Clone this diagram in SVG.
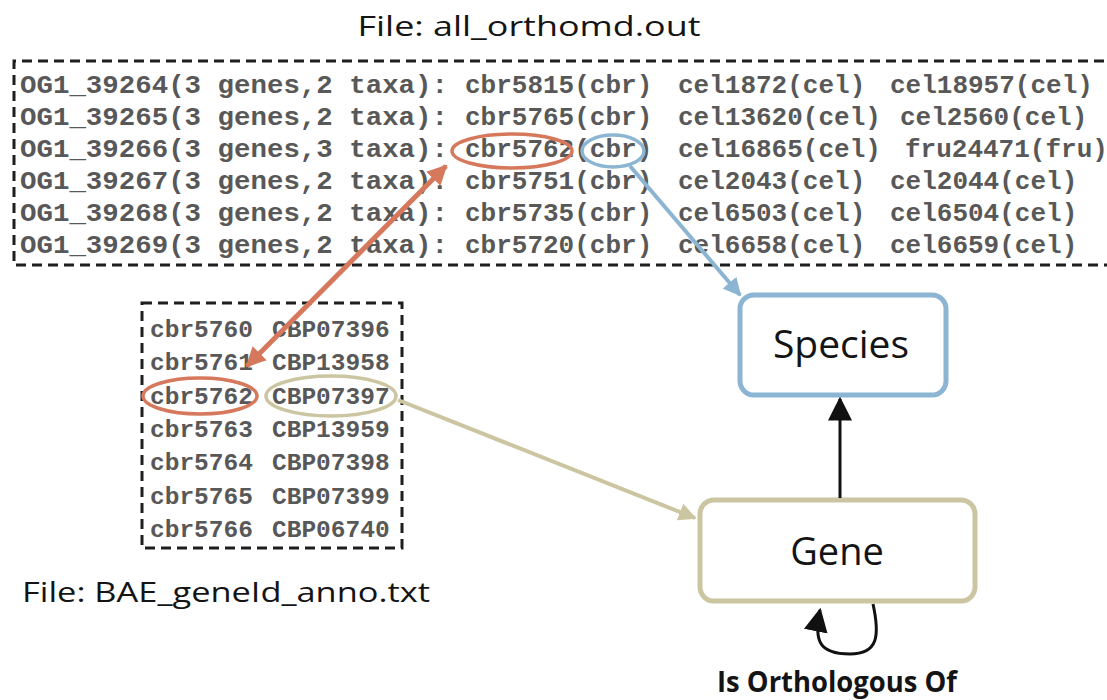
<svg xmlns="http://www.w3.org/2000/svg" width="1107" height="700" viewBox="0 0 1107 700">
  <style>
    .mono { font-family: "Liberation Mono", "Courier New", monospace; font-weight: bold; fill: #585858; }
    .big { font-size: 26px; }
    .small { font-size: 24.5px; }
    .label { font-family: "Open Sans", "DejaVu Sans", sans-serif; fill: #141414; }
    .filebox { fill: none; stroke: #1e1e1e; stroke-width: 3; stroke-dasharray: 10 6; }
    .node { fill: #ffffff; stroke-width: 5; }
  </style>
  <defs>
    <marker id="headRed" viewBox="0 0 10 10" refX="9" refY="5" markerWidth="4" markerHeight="4" orient="auto-start-reverse" markerUnits="strokeWidth">
      <path d="M0,0 L10,5 L0,10 z" fill="#d6785c"/>
    </marker>
    <marker id="headBlue" viewBox="0 0 10 10" refX="9" refY="5" markerWidth="4.5" markerHeight="4.5" orient="auto" markerUnits="strokeWidth">
      <path d="M0,0 L10,5 L0,10 z" fill="#8bb5d3"/>
    </marker>
    <marker id="headKhaki" viewBox="0 0 10 10" refX="9" refY="5" markerWidth="4.5" markerHeight="4.5" orient="auto" markerUnits="strokeWidth">
      <path d="M0,0 L10,5 L0,10 z" fill="#cbc5a2"/>
    </marker>
    <marker id="headBlack" viewBox="0 0 10 10" refX="9" refY="5" markerWidth="8" markerHeight="8" orient="auto" markerUnits="strokeWidth">
      <path d="M0,0 L10,5 L0,10 z" fill="#111111"/>
    </marker>
  </defs>

  <rect width="1107" height="700" fill="#ffffff"/>

  <!-- output file of orthologous groups -->
  <g id="file-orthomd">
    <text class="label" x="529" y="36" font-size="28" text-anchor="middle" textLength="343" lengthAdjust="spacingAndGlyphs">File: all_orthomd.out</text>
    <path class="filebox" d="M1120,61 H14 V265 H1120"/>
    <g class="mono big">
      <text x="20" y="93" textLength="428" lengthAdjust="spacingAndGlyphs">OG1_39264(3 genes,2 taxa):</text>
      <text x="465" y="93">cbr5815(cbr)</text>
      <text x="678" y="93">cel1872(cel)</text>
      <text x="890" y="93">cel18957(cel)</text>

      <text x="20" y="125" textLength="428" lengthAdjust="spacingAndGlyphs">OG1_39265(3 genes,2 taxa):</text>
      <text x="465" y="125">cbr5765(cbr)</text>
      <text x="678" y="125">cel13620(cel)</text>
      <text x="900" y="125">cel2560(cel)</text>

      <text x="20" y="157" textLength="428" lengthAdjust="spacingAndGlyphs">OG1_39266(3 genes,3 taxa):</text>
      <text x="465" y="157">cbr5762(cbr)</text>
      <text x="678" y="157">cel16865(cel)</text>
      <text x="905" y="157">fru24471(fru)</text>

      <text x="20" y="189" textLength="428" lengthAdjust="spacingAndGlyphs">OG1_39267(3 genes,2 taxa):</text>
      <text x="465" y="189">cbr5751(cbr)</text>
      <text x="678" y="189">cel2043(cel)</text>
      <text x="890" y="189">cel2044(cel)</text>

      <text x="20" y="221" textLength="428" lengthAdjust="spacingAndGlyphs">OG1_39268(3 genes,2 taxa):</text>
      <text x="465" y="221">cbr5735(cbr)</text>
      <text x="678" y="221">cel6503(cel)</text>
      <text x="890" y="221">cel6504(cel)</text>

      <text x="20" y="253" textLength="428" lengthAdjust="spacingAndGlyphs">OG1_39269(3 genes,2 taxa):</text>
      <text x="465" y="253">cbr5720(cbr)</text>
      <text x="678" y="253">cel6658(cel)</text>
      <text x="890" y="253">cel6659(cel)</text>
    </g>
  </g>

  <!-- gene id annotation file -->
  <g id="file-geneid">
    <rect class="filebox" x="142" y="303" width="260" height="245"/>
    <g class="mono small">
      <text x="150" y="337">cbr5760</text><text x="272" y="337">CBP07396</text>
      <text x="150" y="370">cbr5761</text><text x="272" y="370">CBP13958</text>
      <text x="150" y="404">cbr5762</text><text x="272" y="404">CBP07397</text>
      <text x="150" y="437">cbr5763</text><text x="272" y="437">CBP13959</text>
      <text x="150" y="470">cbr5764</text><text x="272" y="470">CBP07398</text>
      <text x="150" y="504">cbr5765</text><text x="272" y="504">CBP07399</text>
      <text x="150" y="537">cbr5766</text><text x="272" y="537">CBP06740</text>
    </g>
    <text class="label" x="22" y="602" font-size="28" textLength="408" lengthAdjust="spacingAndGlyphs">File: BAE_geneId_anno.txt</text>
  </g>

  <!-- highlighted fields -->
  <g id="highlights" fill="none" stroke-width="3.5">
    <ellipse cx="512" cy="151" rx="60" ry="17" stroke="#d6785c"/>
    <ellipse cx="613" cy="151" rx="31" ry="16" stroke="#8bb5d3"/>
    <ellipse cx="200" cy="396" rx="57" ry="18" stroke="#d6785c"/>
    <ellipse cx="331" cy="396" rx="65" ry="20" stroke="#cbc5a2"/>
  </g>

  <!-- entity nodes -->
  <g id="species">
    <rect class="node" x="740" y="295" width="206" height="100" rx="14" stroke="#8bb5d3"/>
    <text class="label" x="841" y="358" font-size="39" text-anchor="middle">Species</text>
  </g>
  <g id="gene">
    <rect class="node" x="700" y="500" width="275" height="101" rx="14" stroke="#cbc5a2"/>
    <text class="label" x="837" y="565" font-size="38" text-anchor="middle">Gene</text>
  </g>

  <!-- connectors -->
  <g id="connectors" fill="none">
    <line x1="247" y1="366" x2="446" y2="166" stroke="#d6785c" stroke-width="5" marker-start="url(#headRed)" marker-end="url(#headRed)"/>
    <line x1="630" y1="166" x2="740" y2="295" stroke="#8bb5d3" stroke-width="4" marker-end="url(#headBlue)"/>
    <line x1="398" y1="400" x2="695" y2="518" stroke="#cbc5a2" stroke-width="4" marker-end="url(#headKhaki)"/>
    <line x1="840" y1="498" x2="840" y2="399" stroke="#111111" stroke-width="3" marker-end="url(#headBlack)"/>
    <path d="M873,604 C880,636 878,654 850,654 C818,654 814,640 820,610" stroke="#111111" stroke-width="3" marker-end="url(#headBlack)"/>
  </g>

  <text class="label" x="837" y="692" font-size="29" font-weight="bold" text-anchor="middle" textLength="240" lengthAdjust="spacingAndGlyphs">Is Orthologous Of</text>
</svg>
